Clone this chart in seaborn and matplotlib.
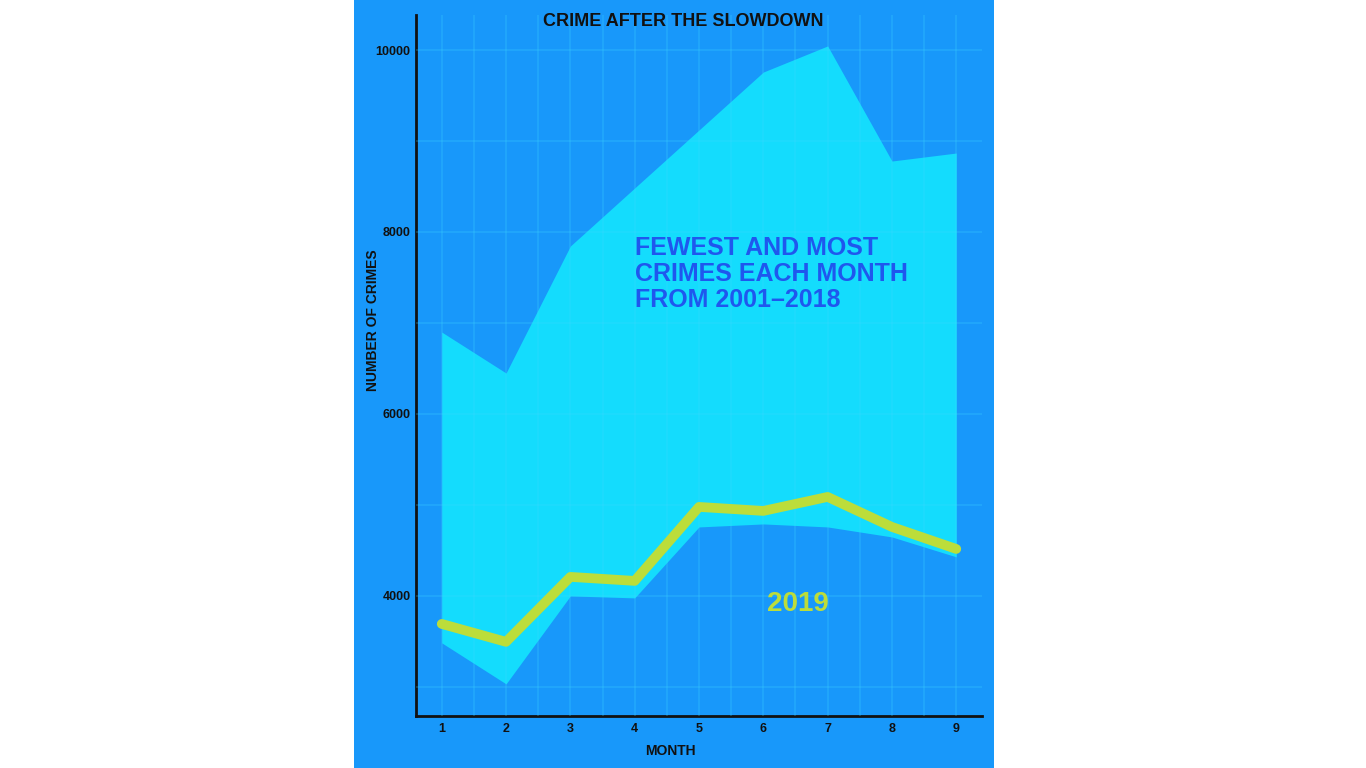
import numpy as np
import pandas as pd
import matplotlib
matplotlib.use("Agg")
import matplotlib.pyplot as plt
import seaborn as sns
from matplotlib.patches import Rectangle

# data
months = [1, 2, 3, 4, 5, 6, 7, 8, 9]
most_crimes = [6900, 6450, 7846, 8484, 9121, 9758, 10045, 8780, 8868]
fewest_crimes = [3484, 3033, 4000, 3978, 4758, 4791, 4758, 4648, 4429]
crimes_2019 = [3692, 3495, 4209, 4165, 4978, 4934, 5088, 4758, 4516]

df = pd.DataFrame({"month": months, "low": fewest_crimes, "high": most_crimes, "y2019": crimes_2019})

# colours
panel_bg = "#1898fa"
band_col = "#14dcfd"
line_col = "#bcdd3a"
note_col = "#1f57ee"
grid_col = "#3fd8ff"

sns.set_theme(style="white")
plt.rcParams["font.family"] = ["Liberation Sans Narrow", "Liberation Sans", "DejaVu Sans"]

W, H = 1366, 768
fig = plt.figure(figsize=(W / 100, H / 100), dpi=100)
fig.patch.set_facecolor("white")
fig.patches.append(Rectangle((354 / W, 0), 640 / W, 1, transform=fig.transFigure,
                             facecolor=panel_bg, edgecolor="none", zorder=-1))

ax = fig.add_axes([416 / W, 52 / H, 566 / W, 701 / H])
ax.set_zorder(1)
ax.set_facecolor(panel_bg)

ax.fill_between(df["month"], df["low"], df["high"], color=band_col, linewidth=0, zorder=1)
sns.lineplot(data=df, x="month", y="y2019", color=line_col, linewidth=7,
             solid_capstyle="round", solid_joinstyle="round", ax=ax, zorder=4)

ax.set_xlim(0.6, 9.4)
ax.set_ylim(2680, 10385)
ax.set_xticks(months)
ax.set_yticks([4000, 6000, 8000, 10000])
ax.set_xticks(np.arange(1.5, 9, 1.0), minor=True)
ax.set_yticks(np.arange(3000, 10001, 2000), minor=True)
ax.set_axisbelow(False)
ax.grid(which="both", color=grid_col, alpha=0.25, linewidth=1.2)
ax.tick_params(which="both", length=0)
ax.tick_params(axis="x", pad=5, labelsize=9)
ax.tick_params(axis="y", pad=4, labelsize=9)
for lab in ax.get_xticklabels() + ax.get_yticklabels():
    lab.set_fontweight("bold")
    lab.set_color("#111111")

for s in ["top", "right"]:
    ax.spines[s].set_visible(False)
for s in ["left", "bottom"]:
    ax.spines[s].set_color("#111111")
    ax.spines[s].set_linewidth(2)

ax.set_xlabel("")
ax.set_ylabel("")

fig.text(683 / W, 1 - 22 / H, "CRIME AFTER THE SLOWDOWN", ha="center", va="center",
         fontsize=13, fontweight="bold", color="#111111")
fig.text(670 / W, 1 - 751 / H, "MONTH", ha="center", va="center",
         fontsize=10, fontweight="bold", color="#111111")
fig.text(373 / W, 1 - 320 / H, "NUMBER OF CRIMES", ha="center", va="center", rotation=90,
         fontsize=10, fontweight="bold", color="#111111")

ax.text(4.0, 7955, "FEWEST AND MOST\nCRIMES EACH MONTH\nFROM 2001\u20132018", ha="left", va="top",
        fontsize=18, fontweight="bold", color=note_col, linespacing=1.1, zorder=3)
ax.text(6.53, 3912, "2019", ha="center", va="center", fontsize=20, fontweight="bold",
        color=line_col, zorder=3)

fig.savefig("out.png", dpi=100, facecolor=fig.get_facecolor())
